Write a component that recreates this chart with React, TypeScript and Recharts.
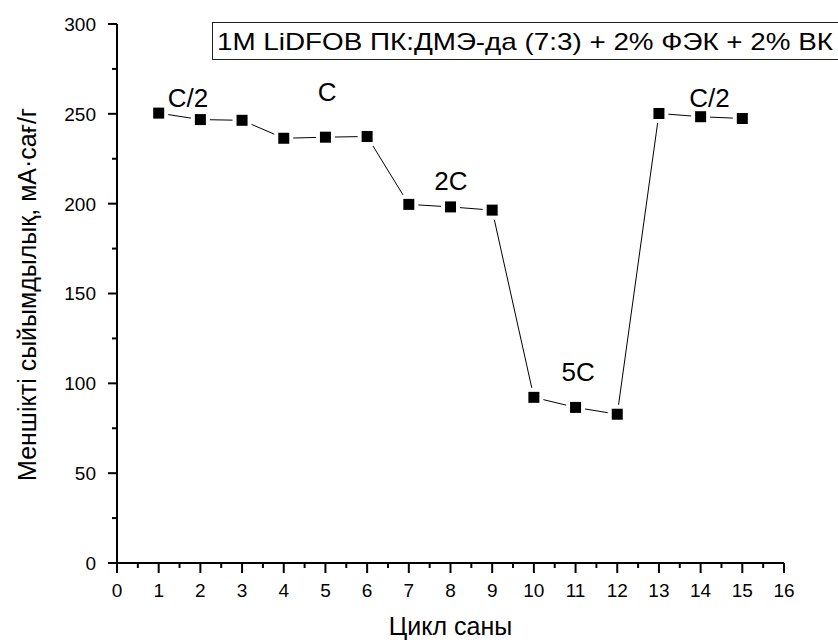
import React from "react";
import { LineChart, Line, XAxis, YAxis, ReferenceDot } from "recharts";

// цикл нөмірі мен меншікті сыйымдылық (мА·сағ/г)
const cycles = [1, 2, 3, 4, 5, 6, 7, 8, 9, 10, 11, 12, 13, 14, 15];
const capacity = [
  250.4, 246.8, 246.4, 236.4, 237.0, 237.4, 199.6, 198.2, 196.4, 92.2, 86.6,
  82.8, 250.2, 248.4, 247.4,
];

// ток режимдерінің белгілері
const rateLabels = ["C/2", "C", "2C", "5C", "C/2"];
const rateLabelX = [1.7, 5.04, 8.01, 11.06, 14.21];
const rateLabelY = [258.8, 262.4, 212.6, 106.3, 258.8];

const xTicks = [
  0, 0.5, 1, 1.5, 2, 2.5, 3, 3.5, 4, 4.5, 5, 5.5, 6, 6.5, 7, 7.5, 8, 8.5, 9,
  9.5, 10, 10.5, 11, 11.5, 12, 12.5, 13, 13.5, 14, 14.5, 15, 15.5, 16,
];
const yTicks = [0, 25, 50, 75, 100, 125, 150, 175, 200, 225, 250, 275, 300];
const xMajorStep = 1;
const yMajorStep = 50;

const legendText = "1M LiDFOB ПК:ДМЭ-да (7:3) + 2% ФЭК + 2% ВК";
const font = "'Liberation Sans', Arial, sans-serif";

const data = cycles.map((c, i) => ({ cycle: c, cap: capacity[i] }));

const XTick = (props: any) => {
  const { x, y, payload } = props;
  const major = payload.value % xMajorStep === 0;
  return (
    <g>
      <line x1={x} x2={x} y1={y} y2={y + (major ? 10 : 5)} stroke="#000" strokeWidth={2} />
      {major && (
        <text x={x} y={y + 34} textAnchor="middle" fontSize={19} fontFamily={font} fill="#000">
          {payload.value}
        </text>
      )}
    </g>
  );
};

const YTick = (props: any) => {
  const { x, y, payload } = props;
  const major = payload.value % yMajorStep === 0;
  return (
    <g>
      <line x1={x} x2={x - (major ? 9 : 5)} y1={y} y2={y} stroke="#000" strokeWidth={2} />
      {major && (
        <text x={x - 21} y={y} dy="0.36em" textAnchor="end" fontSize={19} fontFamily={font} fill="#000">
          {payload.value}
        </text>
      )}
    </g>
  );
};

const SquareDot = (props: any) => {
  const { cx, cy, index } = props;
  if (cx == null || cy == null) return null;
  return (
    <g key={index}>
      <rect x={cx - 9.5} y={cy - 9.5} width={19} height={19} fill="#fff" />
      <rect x={cx - 5.5} y={cy - 5.5} width={11} height={11} fill="#000" />
    </g>
  );
};

export default function App() {
  return (
    <div style={{ position: "absolute", left: 0, top: 0, width: 838, height: 644, overflow: "hidden", background: "#fff" }}>
      <LineChart width={838} height={644} data={data} margin={{ top: 24, right: 54, bottom: 0, left: 0 }}>
        <XAxis
          dataKey="cycle"
          type="number"
          domain={[0, 16]}
          ticks={xTicks}
          interval={0}
          tickSize={0}
          tickMargin={0}
          tickLine={false}
          tick={<XTick />}
          height={81}
          axisLine={{ stroke: "#000", strokeWidth: 2 }}
          label={{
            content: ({ viewBox }: any) => (
              <text
                x={viewBox.x + viewBox.width / 2}
                y={viewBox.y + 72}
                textAnchor="middle"
                fontSize={25}
                fontFamily={font}
                fill="#000"
              >
                Цикл саны
              </text>
            ),
          }}
        />
        <YAxis
          type="number"
          domain={[0, 300]}
          ticks={yTicks}
          interval={0}
          tickSize={0}
          tickMargin={0}
          tickLine={false}
          tick={<YTick />}
          width={117}
          axisLine={{ stroke: "#000", strokeWidth: 2 }}
          label={{
            content: ({ viewBox }: any) => {
              const cx = viewBox.x + 27;
              const cy = viewBox.y + viewBox.height / 2 + 1;
              return (
                <text
                  x={cx}
                  y={cy}
                  dy="0.36em"
                  transform={`rotate(-90 ${cx} ${cy})`}
                  textAnchor="middle"
                  fontSize={25}
                  fontFamily={font}
                  fill="#000"
                >
                  Меншікті сыйымдылық, мА·сағ/г
                </text>
              );
            },
          }}
        />
        <Line
          dataKey="cap"
          type="linear"
          stroke="#000"
          strokeWidth={1}
          dot={<SquareDot />}
          activeDot={false}
          isAnimationActive={false}
        />
        {rateLabels.map((t, i) => (
          <ReferenceDot
            key={i}
            x={rateLabelX[i]}
            y={rateLabelY[i]}
            r={0}
            fill="none"
            stroke="none"
            label={{ value: t, position: "center", fontSize: 26, fontFamily: font, fill: "#000" }}
          />
        ))}
      </LineChart>
      {/* легенда жолағы */}
      <svg width={838} height={70} style={{ position: "absolute", left: 0, top: 0 }}>
        <rect x={212.5} y={22.5} width={640} height={37} fill="#fff" stroke="#222" strokeWidth={1} />
        <text
          x={217}
          y={50}
          fontSize={24}
          fontFamily={font}
          fill="#000"
          textLength={616}
          lengthAdjust="spacingAndGlyphs"
        >
          {legendText}
        </text>
      </svg>
    </div>
  );
}
